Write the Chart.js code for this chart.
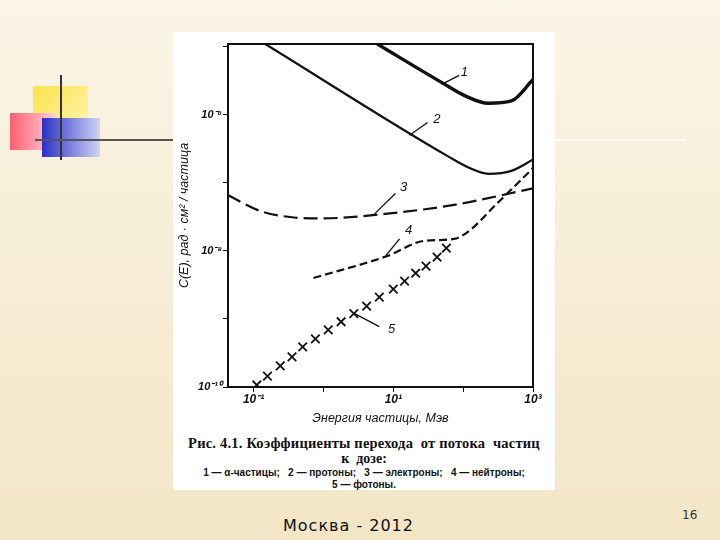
<!DOCTYPE html>
<html><head><meta charset="utf-8">
<script src="https://cdn.jsdelivr.net/npm/chart.js@4/dist/chart.umd.min.js"></script>
<style>
body{margin:0;width:720px;height:540px;overflow:hidden;background:linear-gradient(180deg,#fbf5e6 0%,#f3e6c6 100%);font-family:"Liberation Serif",serif;position:relative}
.a{position:absolute}
#panel{left:173px;top:32px;width:382px;height:458px;background:#fff}
#cv{position:absolute;left:0;top:0}
.cap{position:absolute;left:0;width:382px;text-align:center;font-weight:bold;color:#111}
</style></head><body>
<div class="a" style="left:33px;top:86px;width:55px;height:44px;background:linear-gradient(135deg,#ffe24a,#fff4b0)"></div>
<div class="a" style="left:10px;top:113px;width:45px;height:37px;background:linear-gradient(90deg,#ff6070,#ffd0d8)"></div>
<div class="a" style="left:42px;top:118px;width:58px;height:39px;background:linear-gradient(90deg,#2a30c8,#d0d4f4)"></div>
<div class="a" style="left:60px;top:75px;width:2px;height:85px;background:#333"></div>
<div class="a" style="left:35px;top:139px;width:138px;height:2px;background:#555"></div>
<div class="a" style="left:555px;top:139px;width:130px;height:2px;background:#fff"></div>
<div id="panel" class="a">
<canvas id="cv" width="382" height="398" style="width:382px;height:398px"></canvas>
<div class="cap" style="top:403px;font-size:14.5px;letter-spacing:0.2px">Рис. 4.1. Коэффициенты перехода &nbsp;от потока &nbsp;частиц</div>
<div class="cap" style="top:419px;font-size:14px">к &nbsp;дозе:</div>
<div class="cap" style="top:435px;font-size:10px;font-family:'Liberation Sans',sans-serif">1 — α-частицы; &nbsp;&nbsp;2 — протоны; &nbsp;&nbsp;3 — электроны; &nbsp;&nbsp;4 — нейтроны;</div>
<div class="cap" style="top:447px;font-size:10px;font-family:'Liberation Sans',sans-serif">5 — фотоны.</div>
</div>
<div class="a" style="left:283px;top:516px;font-family:'DejaVu Sans',sans-serif;font-size:16px;letter-spacing:1px;color:#111">Москва - 2012</div>
<div class="a" style="left:682px;top:508px;font-family:'DejaVu Sans',sans-serif;font-size:12px;color:#333">16</div>
<script>
const alphaX=[5.9,49,107,230,490,1000];
const alphaY=[1.1e-5,3.0e-6,1.9e-6,1.48e-6,1.6e-6,3.3e-6];
const protonX=[0.147,61,124,230,490,1000];
const protonY=[1.1e-5,2.45e-7,1.65e-7,1.36e-7,1.5e-7,2.2e-7];
const electronX=[0.043,0.13,0.38,0.91,7.6,78,1000];
const electronY=[6.6e-8,3.8e-8,3.1e-8,3.0e-8,3.5e-8,4.8e-8,8.3e-8];
const neutronX=[0.72,8.4,27,74,124,295,1000];
const neutronY=[4e-9,8.5e-9,1.4e-8,1.5e-8,2.0e-8,4.8e-8,1.65e-7];
const photonX=[0.111,0.158,0.241,0.355,0.504,0.767,1.17,1.79,2.72,4.15,6.31,10,14.5,20.9,29.4,42.3,57.5];
const photonY=[1.07e-10,1.45e-10,2.04e-10,2.78e-10,3.9e-10,5.1e-10,6.9e-10,9.1e-10,1.2e-9,1.54e-9,2.1e-9,2.74e-9,3.6e-9,4.7e-9,6.0e-9,8.1e-9,1.1e-8];
const curveLabels=["1","2","3","4","5"];
const labelX=[91,37,12.3,14.5,8.3];
const labelY=[4.2e-6,8.7e-7,8.7e-8,2.0e-8,7e-10];
const leadX1=[49,17,5.4,7.8,2.8], leadY1=[2.8e-6,5e-7,3.5e-8,8.5e-9,1.2e-9];
const leadX2=[88,31,10.7,12.3,6.3], leadY2=[3.8e-6,7.7e-7,7e-8,1.5e-8,7.7e-10];
const xTicks=[0.1,1,10,100,1000];
const yTicks=[1e-10,1e-9,1e-8,1e-7,1e-6,1e-5];
const sup={"-":"⁻","0":"⁰","1":"¹","2":"²","3":"³","4":"⁴","5":"⁵","6":"⁶","7":"⁷","8":"⁸","9":"⁹"};
const pw=v=>"10"+String(Math.round(Math.log10(v))).split("").map(c=>sup[c]).join("");
const pts=(xs,ys)=>xs.map((x,i)=>({x:x,y:ys[i]}));
const ds=(xs,ys,w,dash)=>({data:pts(xs,ys),borderColor:"#111",borderWidth:w,borderDash:dash,pointRadius:0,cubicInterpolationMode:"monotone",fill:false});
const labelsPlugin={id:"lbl",afterDatasetsDraw(c){const x=c.scales.x,y=c.scales.y,g=c.ctx;g.save();g.strokeStyle="#111";g.lineWidth=1.3;g.fillStyle="#111";g.font="italic 13px 'Liberation Sans'";g.textAlign="center";g.textBaseline="middle";
curveLabels.forEach((t,i)=>{g.beginPath();g.moveTo(x.getPixelForValue(leadX1[i]),y.getPixelForValue(leadY1[i]));g.lineTo(x.getPixelForValue(leadX2[i]),y.getPixelForValue(leadY2[i]));g.stroke();g.fillText(t,x.getPixelForValue(labelX[i])+4,y.getPixelForValue(labelY[i]));});
const a=c.chartArea;g.lineWidth=2;g.strokeRect(a.left,a.top,a.right-a.left,a.bottom-a.top);g.restore();}};
new Chart(document.getElementById("cv"),{type:"line",
data:{datasets:[ds(alphaX,alphaY,3.4,[]),ds(protonX,protonY,2.2,[]),ds(electronX,electronY,2.2,[14,6]),ds(neutronX,neutronY,2.2,[8,4]),
{data:pts(photonX,photonY),showLine:false,pointStyle:"crossRot",pointRadius:6,borderColor:"#111",borderWidth:1.8}]},
options:{responsive:false,animation:false,plugins:{legend:{display:false},tooltip:{enabled:false}},
layout:{padding:{left:0,right:22,top:12,bottom:0}},
scales:{
x:{type:"logarithmic",min:0.043,max:1000,afterBuildTicks(s){s.ticks=xTicks.map(v=>({value:v}));},afterFit(s){s.height=43;},
grid:{drawOnChartArea:false,tickLength:5,color:"#111"},border:{display:false},
ticks:{color:"#111",font:{family:"Liberation Sans",style:"italic",weight:"bold",size:12},padding:0,maxRotation:0,autoSkip:false,callback:v=>[0.1,10,1000].includes(v)?pw(v):""},
title:{display:true,text:"Энергия частицы, Мэв",color:"#111",font:{family:"Liberation Sans",style:"italic",size:12.5},padding:{top:3}}},
y:{type:"logarithmic",min:1e-10,max:1.1e-5,afterBuildTicks(s){s.ticks=yTicks.map(v=>({value:v}));},afterFit(s){s.width=55;},
grid:{drawOnChartArea:false,tickLength:5,color:"#111"},border:{display:false},
ticks:{color:"#111",font:{family:"Liberation Sans",style:"italic",weight:"bold",size:11},padding:1,autoSkip:false,callback:v=>[1e-10,1e-8,1e-6].includes(v)?pw(v):""},
title:{display:true,text:"C(E), рад · см² / частица",color:"#111",font:{family:"Liberation Sans",style:"italic",size:12.5},padding:{bottom:0}}}}},
plugins:[labelsPlugin]});
</script></body></html>
